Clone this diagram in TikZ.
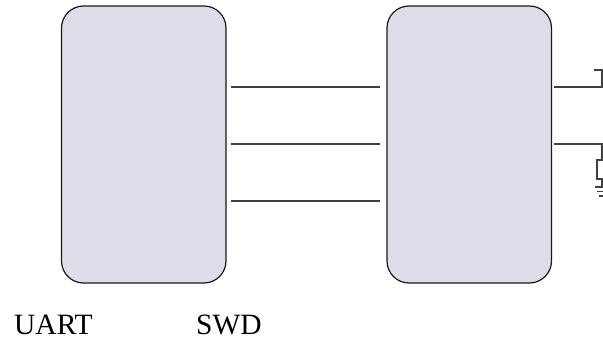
\documentclass[tikz,border=0pt]{standalone}
\usepackage{fontspec}
\setmainfont{Liberation Serif}

\tikzset{
    chipbox/.style={draw=black!90, fill=chipfill, line width=1.2pt, rounded corners=22pt,
        minimum width=164.5pt, minimum height=277pt, inner sep=0pt},
    wire/.style={draw=black!75, line width=1.3pt},
    caption/.style={anchor=base west, inner sep=0pt, font=\fontsize{29.5}{32}\selectfont}
}
\definecolor{chipfill}{HTML}{DEDCE8}

\begin{document}
\begin{tikzpicture}[x=1pt, y=-1pt]

\useasboundingbox (0,0) rectangle (603,345);

% Boxes
\node[chipbox] (left) at (143.75,144.5) {};
\node[chipbox] (right) at (469.25,144.5) {};

% Wires between the boxes
\foreach \y in {87,144,201} {
    \coordinate (from\y) at (231,\y);
    \coordinate (to\y) at (380,\y);
    \draw[wire] (from\y) -- (to\y);
}

% Upper output
\coordinate (outa) at (554,87);
\coordinate (benda) at (602,87);
\coordinate (benb) at (602,70);
\coordinate (enda) at (594,70);
\draw[wire] (outa) -- (benda) -- (benb) -- (enda);

% Lower output with resistor
\coordinate (outb) at (554,144);
\coordinate (bendc) at (602,144);
\coordinate (restop) at (602,160);
\coordinate (resbot) at (602,179);
\coordinate (gnd) at (602,187);
\draw[wire] (outb) -- (bendc) -- (restop);
\draw[wire] (resbot) -- (gnd);
\draw[wire] (597,160) rectangle (607,179);

% Ground
\draw[wire] (595,187) -- (609,187);
\draw[wire] (597,191.5) -- (607,191.5);
\draw[wire] (599,196) -- (605,196);

% Labels
\node[caption] (uart) at (14,334) {UART};
\node[caption] (swd) at (196,334) {SWD};

\end{tikzpicture}
\end{document}
